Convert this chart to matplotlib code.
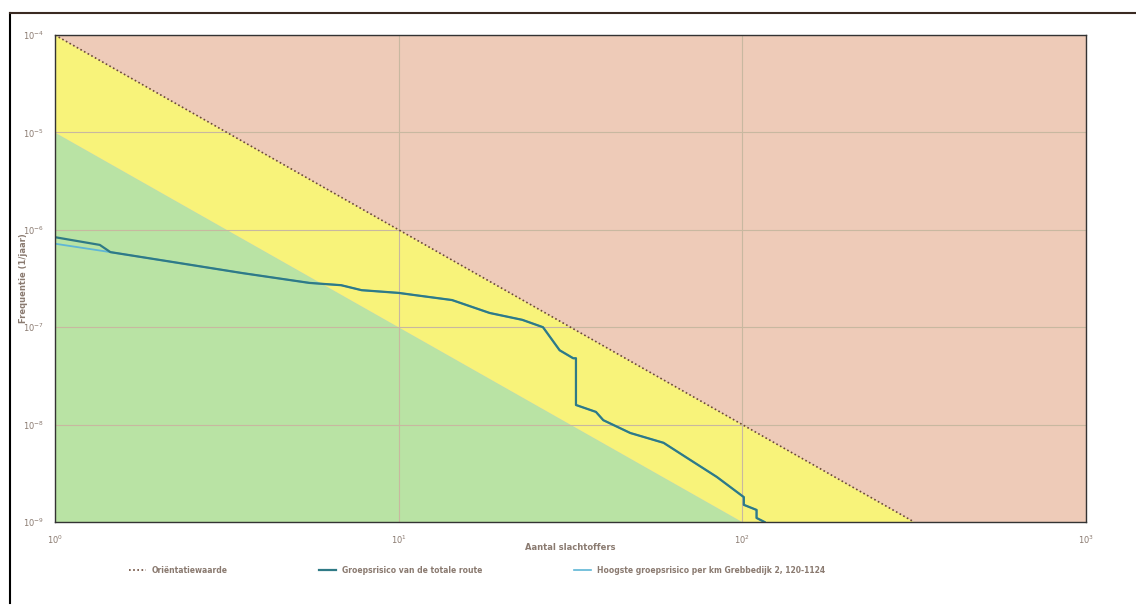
import numpy as np
import matplotlib
matplotlib.use("Agg")
import matplotlib.pyplot as plt
from matplotlib.lines import Line2D

# orientation value: F = c / N^2
ori_c = 1e-4
green_c = 1e-5

# group risk of the whole route (N, F)
route_n = [1, 1.35, 1.45, 2.5, 3.5, 5.5, 6.8, 7.8, 10, 11.1, 14.3, 18.4, 22.9, 26.3,
           29.4, 32.2, 32.8, 32.8, 37.5, 39.4, 47.2, 59.0, 70.8, 84.3, 101, 101, 110, 110, 116]
route_f = [8.4e-7, 7.0e-7, 5.9e-7, 4.35e-7, 3.6e-7, 2.85e-7, 2.7e-7, 2.4e-7, 2.25e-7,
           2.14e-7, 1.9e-7, 1.4e-7, 1.19e-7, 1.0e-7, 5.8e-8, 4.8e-8, 4.8e-8, 1.59e-8,
           1.35e-8, 1.11e-8, 8.2e-9, 6.5e-9, 4.3e-9, 2.9e-9, 1.8e-9, 1.5e-9, 1.33e-9,
           1.1e-9, 1.0e-9]

# highest group risk per km
km_n = [1, 1.45, 2.5, 3.5, 5.5, 6.8, 7.8, 10, 11.1, 14.3, 18.4, 22.9, 26.3,
        29.4, 32.2, 32.8, 32.8, 37.5, 39.4, 47.2, 59.0, 70.8, 84.3, 101, 101, 110, 110, 116]
km_f = [7.2e-7, 5.9e-7, 4.35e-7, 3.6e-7, 2.85e-7, 2.7e-7, 2.4e-7, 2.25e-7,
        2.14e-7, 1.9e-7, 1.4e-7, 1.19e-7, 1.0e-7, 5.8e-8, 4.8e-8, 4.8e-8, 1.59e-8,
        1.35e-8, 1.11e-8, 8.2e-9, 6.5e-9, 4.3e-9, 2.9e-9, 1.8e-9, 1.5e-9, 1.33e-9,
        1.1e-9, 1.0e-9]

labels = ["Oriëntatiewaarde", "Groepsrisico van de totale route",
          "Hoogste groepsrisico per km Grebbedijk 2, 120-1124"]

txt = "#8a7a70"
fig = plt.figure(figsize=(11.36, 6.05), dpi=100)
ax = fig.add_axes([0.0484, 0.1372, 0.9076, 0.8049])

# outer frame
fig.add_artist(Line2D([0.009, 0.009], [0.003, 0.979], color="black", lw=1.5, transform=fig.transFigure))
fig.add_artist(Line2D([0.009, 1.0], [0.979, 0.979], color="#3a2a22", lw=1.5, transform=fig.transFigure))

ax.set_facecolor("#eecbb8")
n = np.logspace(0, 3, 400)
ori = np.clip(ori_c / n**2, 1e-9, 1e-4)
grn = np.clip(green_c / n**2, 1e-9, 1e-4)
ax.fill_between(n, grn, ori, color="#f8f37a", lw=0)
ax.fill_between(n, 1e-9, grn, color="#b9e3a4", lw=0)
ax.plot(n[ori > 1e-9], ori[ori > 1e-9], ls=(0, (1, 1.5)), color="#6b4a3a", lw=1.2)

ax.plot(km_n, km_f, color="#5fb6d6", lw=1.3)
ax.plot(route_n, route_f, color="#2f7a86", lw=1.6)

ax.set_xscale("log")
ax.set_yscale("log")
ax.set_xlim(1, 1000)
ax.set_ylim(1e-9, 1e-4)
ax.grid(True, which="major", color="#c8b8a0", lw=0.8)
ax.minorticks_off()
ax.tick_params(length=0, labelsize=6, colors=txt, pad=8)
for s in ax.spines.values():
    s.set_color("#333333")
    s.set_linewidth(1.0)

ax.set_xlabel("Aantal slachtoffers", fontsize=6, color=txt, fontweight="bold", labelpad=-2)
ax.set_ylabel("Frequentie (1/jaar)", fontsize=6, color=txt, fontweight="bold", labelpad=-4)

handles = [Line2D([], [], ls=(0, (1, 1.5)), color="#6b4a3a", lw=1.2),
           Line2D([], [], color="#2f7a86", lw=1.6),
           Line2D([], [], color="#5fb6d6", lw=1.2)]
leg = fig.legend(handles, labels, loc="center", bbox_to_anchor=(0.42, 0.057), ncol=3,
                 frameon=False, fontsize=5.5, columnspacing=12, handlelength=2.2)
for t in leg.get_texts():
    t.set_color(txt)
    t.set_fontweight("bold")

fig.savefig("out.png", dpi=100)
